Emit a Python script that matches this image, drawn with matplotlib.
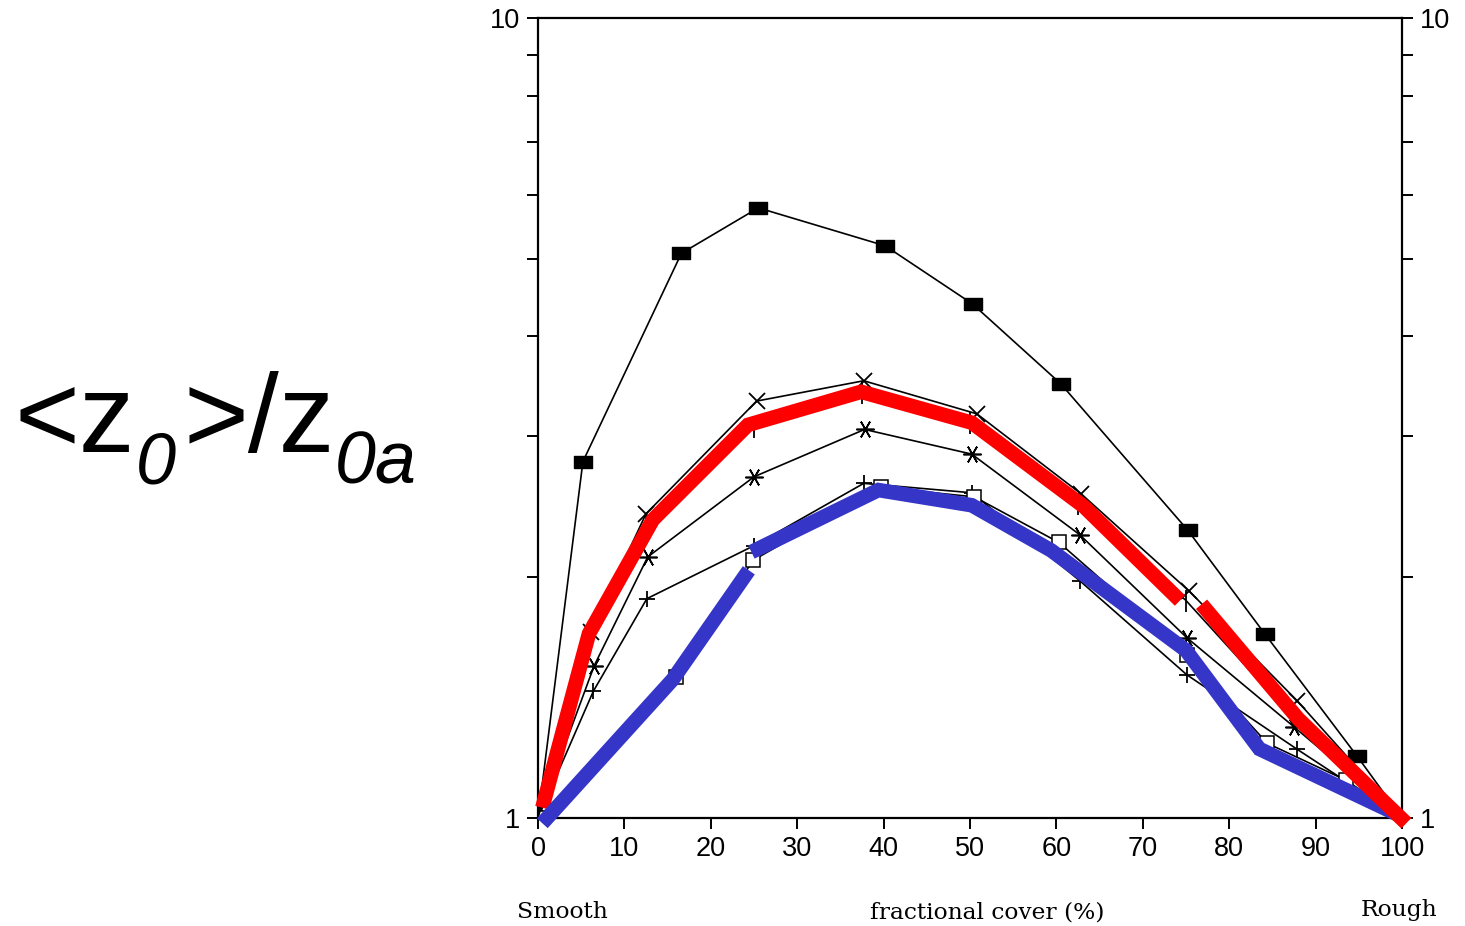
import matplotlib
matplotlib.use('Agg')
import matplotlib.pyplot as plt
from matplotlib.ticker import LogLocator, NullFormatter, FixedLocator, FixedFormatter

# fractional cover (%) and <z0>/z0a
x_sq = [0, 5.2, 16.6, 25.5, 40.2, 50.3, 60.5, 75.2, 84.1, 94.8, 100]
y_sq = [1, 2.79, 5.08, 5.79, 5.19, 4.39, 3.49, 2.29, 1.70, 1.195, 1]

x_x = [0, 6.1, 12.5, 25.3, 37.7, 50.8, 62.9, 75.4, 87.9, 100]
y_x = [1, 1.71, 2.40, 3.32, 3.52, 3.20, 2.54, 1.92, 1.40, 1]

x_ast = [0, 6.5, 12.7, 25.0, 37.8, 50.2, 62.7, 75.1, 87.5, 100]
y_ast = [1, 1.55, 2.12, 2.67, 3.06, 2.85, 2.26, 1.68, 1.30, 1]

x_plus = [0, 6.4, 12.6, 25.0, 37.7, 50.2, 62.7, 75.1, 87.8, 100]
y_plus = [1, 1.44, 1.88, 2.19, 2.62, 2.55, 1.98, 1.51, 1.22, 1]

x_osq = [0, 16.0, 24.9, 39.7, 50.5, 60.3, 75.1, 84.4, 93.5, 100]
y_osq = [1, 1.50, 2.10, 2.59, 2.52, 2.21, 1.60, 1.24, 1.115, 1]

# series mostly hidden under the red overlay
x_hid = [0, 6, 12.5, 25, 37.5, 50, 62.5, 75, 87.5, 100]
y_hid = [1, 1.70, 2.33, 3.08, 3.40, 3.12, 2.47, 1.87, 1.33, 1]

# thick overlays
x_red1 = [0.5, 5.9, 13.3, 24.3, 37.4, 50.2, 63.2, 74.3]
y_red1 = [1.03, 1.70, 2.36, 3.10, 3.41, 3.12, 2.45, 1.87]
x_red2 = [76.8, 88, 100.5]
y_red2 = [1.85, 1.33, 0.985]

x_blue1 = [0.5, 15.6, 24.4]
y_blue1 = [0.985, 1.49, 2.04]
x_blue2 = [24.7, 39.4, 50.2, 59.4, 75.0, 83.5, 99.5]
y_blue2 = [2.15, 2.57, 2.46, 2.16, 1.62, 1.22, 1.01]

xticks = [0, 10, 20, 30, 40, 50, 60, 70, 80, 90, 100]

W, H = 1465, 926
fig = plt.figure(figsize=(W / 100, H / 100), dpi=100)
ax = fig.add_axes([538 / W, 108 / H, 864 / W, 800 / H])

lw = 1.2
ax.plot(x_sq, y_sq, color='k', lw=lw, marker=[(-1.4, -1), (1.4, -1), (1.4, 1), (-1.4, 1), (-1.4, -1)],
        ms=13, mfc='k', mec='k', zorder=2)
ax.plot(x_x, y_x, color='k', lw=lw, marker='x', ms=12, mew=1.3, zorder=2)
ax.plot(x_ast, y_ast, color='k', lw=lw, marker=(6, 2, 90), ms=13, mew=1.2, zorder=2)
ax.plot(x_plus, y_plus, color='k', lw=lw, marker='+', ms=12, mew=1.3, zorder=2)
ax.plot(x_osq, y_osq, color='k', lw=lw, marker='s', ms=10, mfc='white', mec='k', mew=1.1, zorder=2)
ax.plot(x_hid, y_hid, color='k', lw=lw, marker='|', ms=16, mew=1.3, zorder=2)

ax.plot(x_red1, y_red1, color='#ff0000', lw=10.5, solid_capstyle='butt', solid_joinstyle='miter',
        clip_on=False, zorder=3)
ax.plot(x_blue1, y_blue1, color='#3535c8', lw=10.5, solid_capstyle='butt', solid_joinstyle='miter',
        clip_on=False, zorder=4)
ax.plot(x_blue2, y_blue2, color='#3535c8', lw=10.5, solid_capstyle='butt', solid_joinstyle='miter',
        clip_on=False, zorder=4)
ax.plot(x_red2, y_red2, color='#ff0000', lw=10.5, solid_capstyle='butt', solid_joinstyle='miter',
        clip_on=False, zorder=5)

ax.set_yscale('log')
ax.set_xlim(0, 100)
ax.set_ylim(1, 10)
ax.xaxis.set_major_locator(FixedLocator(xticks))
ax.xaxis.set_major_formatter(FixedFormatter([str(v) for v in xticks]))
ax.yaxis.set_major_locator(FixedLocator([1, 10]))
ax.yaxis.set_major_formatter(FixedFormatter(['1', '10']))
ax.yaxis.set_minor_locator(LogLocator(base=10, subs=range(2, 10)))
ax.yaxis.set_minor_formatter(NullFormatter())

for s in ax.spines.values():
    s.set_linewidth(1.6)
ax.tick_params(which='both', direction='out', length=8, width=1.4, labelsize=19.5, pad=5)
ax.tick_params(axis='y', which='both', left=True, right=True, labelleft=True, labelright=True)
ax.tick_params(axis='x', top=False)
for lab in ax.get_xticklabels() + ax.get_yticklabels():
    lab.set_family('Liberation Sans')

serif = dict(family='DejaVu Serif', fontsize=16.8, va='center')
fig.text(517 / W, 1 - 912 / H, 'Smooth', ha='left', **serif)
fig.text(870 / W, 1 - 912 / H, 'fractional cover (%)', ha='left', **serif)
fig.text(1437 / W, 1 - 910 / H, 'Rough', ha='right', **serif)

# big y label: <z0>/z0a with italic subscripts
renderer = fig.canvas.get_renderer()
x = 15
base = 452
sub = 484
pieces = [('<z', 80, 'normal', base, 0), ('0', 52, 'italic', sub, 8),
          ('>/z', 80, 'normal', base, 0), ('0a', 53, 'italic', sub, 0)]
for txt, size, style, yb, gap in pieces:
    t = fig.text(x / W, 1 - yb / H, txt, fontsize=size, style=style,
                 family='Liberation Sans', ha='left', va='baseline')
    x = t.get_window_extent(renderer).x1 + gap

fig.savefig('out.png', dpi=100)
